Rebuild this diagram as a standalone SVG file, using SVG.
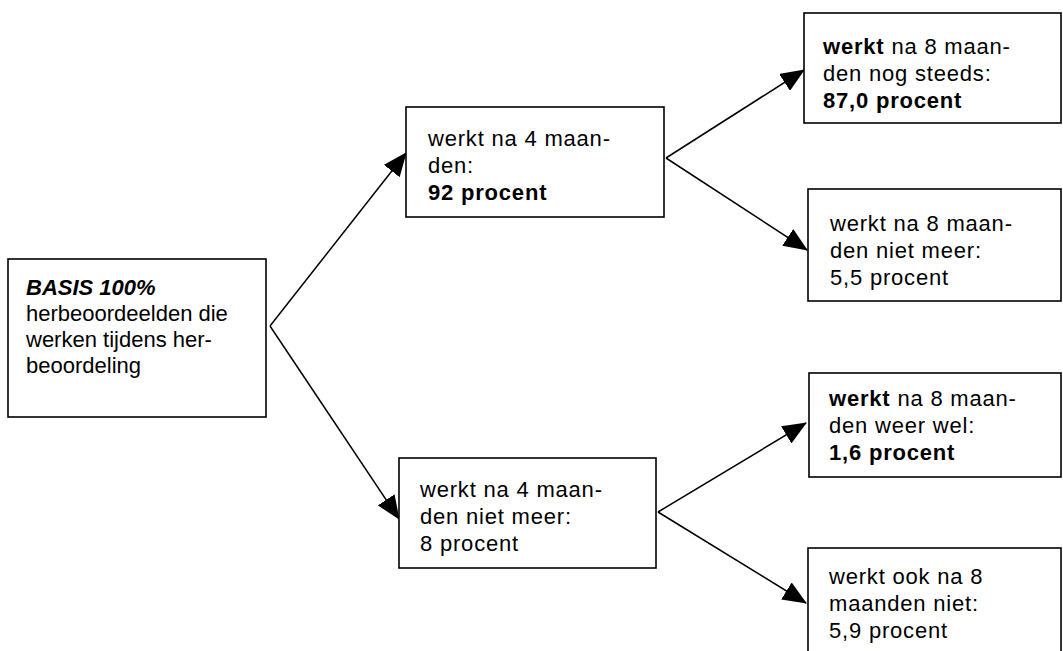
<svg xmlns="http://www.w3.org/2000/svg" width="1063" height="651" viewBox="0 0 1063 651">
<style>
.box{fill:#fff;stroke:#000;stroke-width:1.6}
.t{font-family:"Liberation Sans",Arial,sans-serif;font-size:22px;fill:#000;letter-spacing:0.8px}
.t0{font-family:"Liberation Sans",Arial,sans-serif;font-size:22px;fill:#000}
.b{font-weight:bold}
.bi{font-weight:bold;font-style:italic}
.c{fill:none;stroke:#000;stroke-width:1.5}
</style>
<defs>
<marker id="ah" markerUnits="userSpaceOnUse" markerWidth="24" markerHeight="20" viewBox="0 0 24 20" refX="23" refY="10" orient="auto">
<path d="M0,0 L24,10 L0,20 Z" fill="#000"/>
</marker>
</defs>
<rect width="1063" height="651" fill="#fff"/>
<g id="connectors">
<line class="c" x1="270" y1="326" x2="406" y2="153" marker-end="url(#ah)"/>
<line class="c" x1="270" y1="326" x2="399" y2="519" marker-end="url(#ah)"/>
<line class="c" x1="666" y1="158" x2="804" y2="70" marker-end="url(#ah)"/>
<line class="c" x1="666" y1="158" x2="807" y2="250" marker-end="url(#ah)"/>
<line class="c" x1="658" y1="512" x2="806" y2="423" marker-end="url(#ah)"/>
<line class="c" x1="658" y1="512" x2="806" y2="603" marker-end="url(#ah)"/>
</g>
<g id="basis">
<rect class="box" x="8" y="259" width="258" height="158"/>
<text class="t0" x="26" y="295"><tspan class="bi">BASIS 100%</tspan><tspan x="26" y="321">herbeoordeelden die</tspan><tspan x="26" y="347">werken tijdens her-</tspan><tspan x="26" y="373">beoordeling</tspan></text>
</g>
<g id="werkt4">
<rect class="box" x="406" y="107" width="258" height="110"/>
<text class="t" x="428" y="146">werkt na 4 maan-<tspan x="428" y="173">den:</tspan><tspan x="428" y="200" class="b">92 procent</tspan></text>
</g>
<g id="nietwerkt4">
<rect class="box" x="399" y="458" width="257" height="110"/>
<text class="t" x="420" y="497">werkt na 4 maan-<tspan x="420" y="524">den niet meer:</tspan><tspan x="420" y="551">8 procent</tspan></text>
</g>
<g id="werkt8">
<rect class="box" x="804" y="13" width="257" height="110"/>
<text class="t" x="823" y="54"><tspan class="b">werkt</tspan> na 8 maan-<tspan x="823" y="81">den nog steeds:</tspan><tspan x="823" y="108" class="b">87,0 procent</tspan></text>
</g>
<g id="nietmeer8">
<rect class="box" x="808" y="189" width="253" height="112"/>
<text class="t" x="830" y="231">werkt na 8 maan-<tspan x="830" y="258">den niet meer:</tspan><tspan x="830" y="285">5,5 procent</tspan></text>
</g>
<g id="weerwel8">
<rect class="box" x="809" y="373" width="252" height="104"/>
<text class="t" x="829" y="406"><tspan class="b">werkt</tspan> na 8 maan-<tspan x="829" y="433">den weer wel:</tspan><tspan x="829" y="460" class="b">1,6 procent</tspan></text>
</g>
<g id="ooknieт8">
<rect class="box" x="808" y="548" width="253" height="120"/>
<text class="t" x="829" y="584">werkt ook na 8<tspan x="829" y="611">maanden niet:</tspan><tspan x="829" y="638">5,9 procent</tspan></text>
</g>
</svg>
